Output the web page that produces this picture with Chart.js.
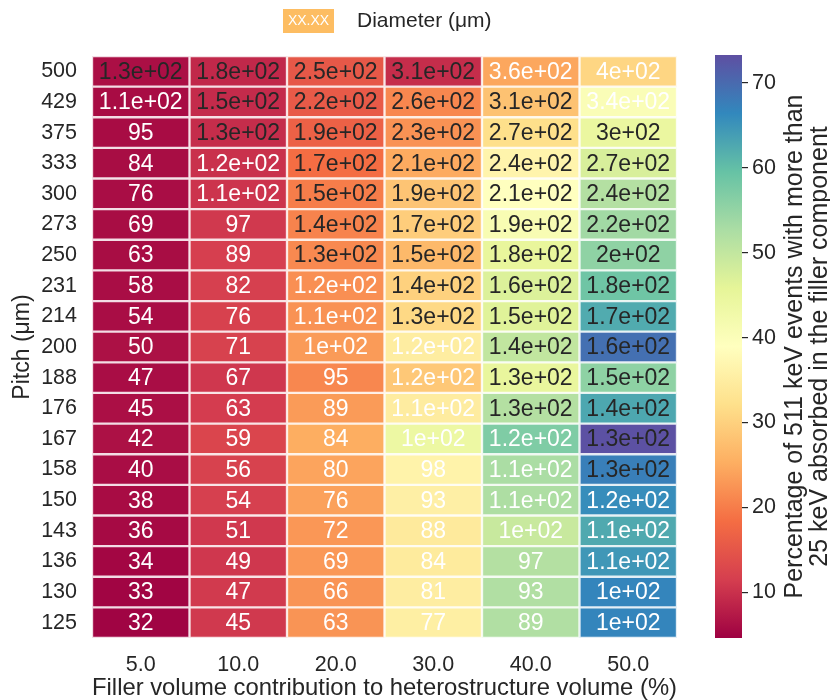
<!DOCTYPE html>
<html>
<head>
<meta charset="utf-8">
<script src="https://cdn.jsdelivr.net/npm/chart.js@4.4.1/dist/chart.umd.min.js"></script>
<style>
  html, body { margin: 0; padding: 0; background: #ffffff; }
  #wrap { position: relative; width: 830px; height: 700px; }
  #heat { position: absolute; left: 0; top: 0; }
  #cbar { position: absolute; left: 705px; top: 0; }
</style>
</head>
<body>
<div id="wrap">
  <canvas id="heat" width="705" height="700"></canvas>
  <canvas id="cbar" width="125" height="700"></canvas>
</div>
<script>
// Filler volume fraction (%) per column, pitch (µm) per row, top to bottom
const fillerVolume = ['5.0', '10.0', '20.0', '30.0', '40.0', '50.0'];
const pitch = ['500', '429', '375', '333', '300', '273', '250', '231', '214', '200',
               '188', '176', '167', '158', '150', '143', '136', '130', '125'];

// Percentage of 511 keV events with > 25 keV absorbed in the filler, one array per filler fraction
const pct5  = [6.2, 5.8, 5.8, 5.9, 6.0, 5.9, 5.9, 6.0, 6.0, 6.4, 6.0, 6.2, 6.4, 6.0, 5.8, 5.6, 5.2, 5.0, 4.9];
const pct10 = [9.0, 9.3, 9.5, 10.0, 10.4, 10.9, 11.6, 11.7, 11.9, 12.0, 10.7, 11.3, 12.5, 12.0, 11.7, 10.8, 10.7, 11.0, 10.9];
const pct20 = [15.2, 15.6, 16.6, 18.3, 20.0, 20.7, 21.3, 21.9, 22.3, 23.2, 21.1, 23.2, 25.2, 24.2, 23.8, 22.8, 22.9, 22.5, 22.5];
const pct30 = [9.5, 21.1, 22.3, 24.9, 28.3, 29.5, 26.7, 30.0, 31.1, 35.0, 28.8, 34.8, 43.8, 36.2, 35.5, 34.3, 34.5, 35.0, 35.3];
const pct40 = [24.5, 28.0, 32.1, 36.5, 39.0, 41.0, 45.1, 47.0, 46.5, 50.1, 45.0, 51.7, 57.1, 52.7, 52.3, 49.3, 51.7, 52.0, 52.0];
const pct50 = [30.7, 40.3, 44.4, 47.5, 51.7, 53.6, 55.5, 58.7, 62.3, 69.3, 55.6, 62.8, 73.0, 67.5, 65.8, 62.5, 64.6, 66.8, 66.8];

// Filler diameter (µm) written in each cell
const dia5  = ['1.3e+02', '1.1e+02', '95', '84', '76', '69', '63', '58', '54', '50', '47', '45', '42', '40', '38', '36', '34', '33', '32'];
const dia10 = ['1.8e+02', '1.5e+02', '1.3e+02', '1.2e+02', '1.1e+02', '97', '89', '82', '76', '71', '67', '63', '59', '56', '54', '51', '49', '47', '45'];
const dia20 = ['2.5e+02', '2.2e+02', '1.9e+02', '1.7e+02', '1.5e+02', '1.4e+02', '1.3e+02', '1.2e+02', '1.1e+02', '1e+02', '95', '89', '84', '80', '76', '72', '69', '66', '63'];
const dia30 = ['3.1e+02', '2.6e+02', '2.3e+02', '2.1e+02', '1.9e+02', '1.7e+02', '1.5e+02', '1.4e+02', '1.3e+02', '1.2e+02', '1.2e+02', '1.1e+02', '1e+02', '98', '93', '88', '84', '81', '77'];
const dia40 = ['3.6e+02', '3.1e+02', '2.7e+02', '2.4e+02', '2.1e+02', '1.9e+02', '1.8e+02', '1.6e+02', '1.5e+02', '1.4e+02', '1.3e+02', '1.3e+02', '1.2e+02', '1.1e+02', '1.1e+02', '1e+02', '97', '93', '89'];
const dia50 = ['4e+02', '3.4e+02', '3e+02', '2.7e+02', '2.4e+02', '2.2e+02', '2e+02', '1.8e+02', '1.7e+02', '1.6e+02', '1.5e+02', '1.4e+02', '1.3e+02', '1.3e+02', '1.2e+02', '1.1e+02', '1.1e+02', '1e+02', '1e+02'];

const colorbarTicks = [10, 20, 30, 40, 50, 60, 70];
const pctMin = 4.6;
const pctMax = 73.3;

const pctColumns = [pct5, pct10, pct20, pct30, pct40, pct50];
const diaColumns = [dia5, dia10, dia20, dia30, dia40, dia50];

const FONT = '"Liberation Sans", Arial, Helvetica, sans-serif';
const INK = '#262626';
Chart.defaults.font.family = FONT;
Chart.defaults.color = INK;

// Spectral colormap
const SPECTRAL = ['#9e0142', '#d53e4f', '#f46d43', '#fdae61', '#fee08b', '#ffffbf',
                  '#e6f598', '#abdda4', '#66c2a5', '#3288bd', '#5e4fa2'];
function hexRgb(h) {
  return [parseInt(h.slice(1, 3), 16), parseInt(h.slice(3, 5), 16), parseInt(h.slice(5, 7), 16)];
}
const SPECTRAL_RGB = SPECTRAL.map(hexRgb);
function spectralRgb(v) {
  let t = (v - pctMin) / (pctMax - pctMin);
  t = Math.max(0, Math.min(1, t));
  const s = t * 10;
  const i = Math.min(9, Math.floor(s));
  const f = s - i;
  const a = SPECTRAL_RGB[i], b = SPECTRAL_RGB[i + 1];
  return [0, 1, 2].map(k => a[k] + (b[k] - a[k]) * f);
}
function rgbStr(c) {
  return 'rgb(' + c.map(x => Math.round(x)).join(',') + ')';
}
function tintRgb(c, w) {
  return c.map(x => x + (255 - x) * w);
}

// one floating-bar dataset per pitch row; each bar spans one row band
const nRows = pitch.length;
const datasets = pitch.map((p, i) => {
  const cols = pctColumns.map(col => spectralRgb(col[i]));
  return {
    label: p,
    data: fillerVolume.map(() => [nRows - 1 - i, nRows - i]),
    backgroundColor: cols.map(rgbStr),
    borderColor: cols.map(c => rgbStr(tintRgb(c, 0.86))),
    borderWidth: 1.5,
    borderSkipped: false,
    grouped: false,
    barPercentage: 1,
    categoryPercentage: 1,
    cellLabels: diaColumns.map(col => col[i])
  };
});

// diameter values printed in each cell
const cellText = {
  id: 'cellText',
  afterDatasetsDraw(chart) {
    const ctx = chart.ctx;
    ctx.save();
    ctx.font = '23px ' + FONT;
    ctx.textAlign = 'center';
    ctx.textBaseline = 'middle';
    chart.data.datasets.forEach((ds, i) => {
      chart.getDatasetMeta(i).data.forEach((el, j) => {
        const label = ds.cellLabels[j];
        const v = parseFloat(label);
        ctx.fillStyle = (v >= 125 && v <= 320) ? INK : '#ffffff';
        ctx.fillText(label, el.x, (el.y + el.base) / 2 + 1);
      });
    });
    ctx.restore();
  }
};

// legend entry explaining the cell text
const diameterLegend = {
  id: 'diameterLegend',
  afterDraw(chart) {
    const ctx = chart.ctx;
    ctx.save();
    ctx.fillStyle = '#fdbd62';
    ctx.fillRect(283, 9, 51, 24);
    ctx.fillStyle = '#ffffff';
    ctx.font = '14px ' + FONT;
    ctx.textAlign = 'center';
    ctx.textBaseline = 'middle';
    ctx.fillText('XX.XX', 308.5, 21.5);
    ctx.fillStyle = INK;
    ctx.font = '21px ' + FONT;
    ctx.textAlign = 'left';
    ctx.fillText('Diameter (μm)', 357, 21);
    ctx.restore();
  }
};

new Chart(document.getElementById('heat'), {
  type: 'bar',
  data: { labels: fillerVolume, datasets },
  options: {
    responsive: false,
    animation: false,
    events: [],
    layout: { padding: { top: 56, right: 28, left: 0, bottom: 0 } },
    plugins: { legend: { display: false }, tooltip: { enabled: false } },
    scales: {
      x: {
        type: 'category',
        grid: { display: false, drawTicks: false },
        border: { display: false },
        ticks: { font: { size: 21.5 }, color: INK, padding: 14, maxRotation: 0 },
        title: {
          display: true,
          text: 'Filler volume contribution to heterostructure volume (%)',
          font: { size: 24, lineHeight: 1.0 },
          color: INK,
          padding: { top: 0, bottom: 0 }
        },
        afterFit(s) { s.height = 62; }
      },
      y: {
        type: 'linear',
        min: 0,
        max: nRows,
        grid: { display: false, drawTicks: false },
        border: { display: false },
        afterBuildTicks(s) { s.ticks = pitch.map((p, i) => ({ value: nRows - 0.5 - i })); },
        ticks: {
          autoSkip: false,
          font: { size: 21.5 },
          color: INK,
          padding: 15,
          callback: (v, idx) => pitch[idx]
        },
        title: {
          display: true,
          text: 'Pitch (μm)',
          font: { size: 23 },
          color: INK,
          padding: { top: 9, bottom: 0 }
        },
        afterFit(s) { s.width = 92; }
      }
    }
  },
  plugins: [cellText, diameterLegend]
});

// colorbar title, two rotated lines
const cbTitle = {
  id: 'cbTitle',
  afterDraw(chart) {
    const ctx = chart.ctx;
    const y = chart.scales.y;
    const cy = (y.top + y.bottom) / 2;
    ctx.save();
    ctx.fillStyle = INK;
    ctx.font = '25px ' + FONT;
    ctx.textAlign = 'center';
    ctx.textBaseline = 'middle';
    [['Percentage of 511 keV events with more than', 90],
     ['25 keV absorbed in the filler component', 115]].forEach(([txt, x]) => {
      ctx.save();
      ctx.translate(x, cy);
      ctx.rotate(-Math.PI / 2);
      ctx.fillText(txt, 0, 0);
      ctx.restore();
    });
    ctx.restore();
  }
};

new Chart(document.getElementById('cbar'), {
  type: 'bar',
  data: {
    labels: [''],
    datasets: [{
      data: [[pctMin, pctMax]],
      backgroundColor: (c) => {
        const chart = c.chart;
        const ys = chart.scales.y;
        if (!chart.chartArea || !ys) return SPECTRAL[0];
        const g = chart.ctx.createLinearGradient(0, ys.getPixelForValue(pctMin), 0, ys.getPixelForValue(pctMax));
        SPECTRAL.forEach((col, k) => g.addColorStop(k / 10, col));
        return g;
      },
      borderWidth: 0,
      barPercentage: 1,
      categoryPercentage: 1
    }]
  },
  options: {
    responsive: false,
    animation: false,
    events: [],
    layout: { padding: { left: 10, top: 55, bottom: 62, right: 0 } },
    plugins: { legend: { display: false }, tooltip: { enabled: false } },
    scales: {
      x: { display: false },
      y: {
        position: 'right',
        min: pctMin,
        max: pctMax,
        afterBuildTicks(s) { s.ticks = colorbarTicks.map(v => ({ value: v })); },
        grid: { display: true, drawOnChartArea: false, drawTicks: true, tickLength: 6, color: INK, lineWidth: 1.2 },
        border: { display: false },
        ticks: { font: { size: 21.5 }, color: INK, padding: 4 },
        afterFit(s) { s.width = 88; }
      }
    }
  },
  plugins: [cbTitle]
});
</script>
</body>
</html>
